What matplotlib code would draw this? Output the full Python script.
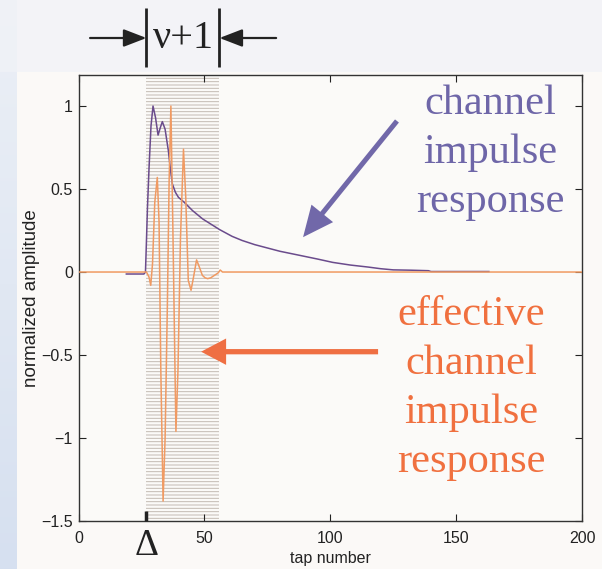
import numpy as np
import matplotlib
matplotlib.use("Agg")
import matplotlib.pyplot as plt
from matplotlib import transforms

# ---------------- data ----------------
purple_taps = [19, 26, 26.6, 27.0, 27.4, 28.0, 28.8, 29.6, 30.6, 31.6, 32.5, 33.3, 34.4,
               35.7, 36.5, 37.3, 38.5, 39.7, 42.0, 45.3, 49.3, 56, 61, 65, 70, 75, 80,
               88, 95, 101, 108, 115, 120, 125, 132, 139, 140, 163]
purple_vals = [-0.012, -0.012, 0.0, 0.19, 0.39, 0.62, 0.88, 1.0, 0.93, 0.825, 0.87, 0.906, 0.86,
               0.73, 0.62, 0.53, 0.48, 0.45, 0.42, 0.37, 0.32, 0.256, 0.215, 0.19, 0.165, 0.145, 0.125,
               0.1, 0.078, 0.058, 0.042, 0.03, 0.02, 0.013, 0.011, 0.008, 0.003, 0.003]

orange_taps = [0, 27, 28, 28.7, 29.4, 30.3, 31.3, 32.0, 32.7, 33.6, 34.4, 35.3, 36.0, 36.7,
               37.5, 38.7, 39.5, 40.5, 41.7, 42.6, 43.6, 44.7, 45.7, 46.9, 48.0, 49.2, 50.3,
               51.3, 52.5, 54.0, 55.5, 56.3, 57.2, 200]
orange_vals = [0, 0, -0.03, -0.08, 0.05, 0.42, 0.57, 0.3, -0.59, -1.38, -1.0, -0.2, 0.55, 1.0,
               0.25, -0.96, -0.6, 0.2, 0.74, 0.45, -0.05, -0.11, -0.03, 0.073, 0.03, -0.02, -0.035,
               -0.04, -0.035, -0.02, -0.005, 0.012, 0.0, 0]

delta = 27          # start of the window (Delta)
window_end = 56     # Delta + nu + 1

x_ticks = [0, 50, 100, 150, 200]
y_ticks = [-1.5, -1, -0.5, 0, 0.5, 1]
x_ticklabels = ["0", "50", "100", "150", "200"]
y_ticklabels = ["\u22121.5", "\u22121", "\u22120.5", "0", "0.5", "1"]

# ---------------- figure ----------------
W, H = 602, 569
fig = plt.figure(figsize=(W / 100, H / 100), dpi=100)

# slide background
bg = fig.add_axes([0, 0, 1, 1], zorder=-10)
bg.axis("off")
img = np.ones((H, W, 3))
top_col = np.array([0xf3, 0xf4, 0xf7]) / 255
panel_col = np.array([0xfb, 0xfa, 0xf8]) / 255
img[:, :] = panel_col
img[:72, :] = top_col
t = np.linspace(0, 1, H)[:, None]
strip_top = np.array([0xec, 0xf0, 0xf6]) / 255
strip_bot = np.array([0xd6, 0xe0, 0xf0]) / 255
img[:, :17] = (strip_top * (1 - t) + strip_bot * t)[:, None, :]
img[:72, :17] = (img[:72, :17] + top_col) / 2
bg.imshow(img, aspect="auto", extent=[0, 1, 0, 1])

ax = fig.add_axes([78.5 / W, 1 - 521 / H, (582 - 78.5) / W, (521 - 75) / H])
ax.set_facecolor(panel_col)
ax.set_xlim(0, 200)
ax.set_ylim(-1.5, 1.187)

plt.rcParams["hatch.linewidth"] = 0.7
ax.axvspan(delta, window_end, facecolor="none", edgecolor="#c2bab2",
           hatch="-----", linewidth=0, zorder=1)

ax.plot(purple_taps, purple_vals, color="#6a4b8c", lw=1.1, zorder=3)
ax.plot(orange_taps, orange_vals, color="#f09a62", lw=1.1, zorder=4)

ax.set_xticks(x_ticks)
ax.set_xticklabels(x_ticklabels)
ax.set_yticks(y_ticks)
ax.set_yticklabels(y_ticklabels)
ax.tick_params(direction="in", length=5, width=0.8, top=True, right=True,
               labelsize=11.5, colors="#222222", pad=4)
ax.tick_params(axis="x", pad=7)
for lab in ax.get_xticklabels() + ax.get_yticklabels():
    lab.set_family("Liberation Sans")
for s in ax.spines.values():
    s.set_color("#333333")
    s.set_linewidth(1.0)

ax.set_xlabel("tap number", fontsize=11.5, family="Liberation Sans", labelpad=4, color="#222222")
ax.set_ylabel("normalized amplitude", fontsize=13.5, family="Liberation Sans", labelpad=1, color="#222222")

# thick Delta tick
ax.plot([delta, delta], [-1.5, -1.44], color="#222222", lw=2.5, solid_capstyle="butt",
        zorder=5, clip_on=False)

# Delta label
tr = transforms.blended_transform_factory(ax.transData, fig.transFigure)
ax.text(delta, 1 - 546 / H, "\u0394", transform=tr, ha="center", va="center",
        fontsize=27, family="Liberation Serif", color="#222222")

# nu+1 annotation at the top
y_arr = 1 - 38 / H
for xb in (delta, window_end):
    ax.plot([xb, xb], [1 - 8 / H, 1 - 67 / H], transform=tr, color="#222222",
            lw=2.0, clip_on=False, solid_capstyle="butt")
ax.annotate("", xy=(delta, y_arr), xytext=(4.6, y_arr), xycoords=tr, textcoords=tr,
            arrowprops=dict(arrowstyle="-|>,head_length=0.7,head_width=0.27",
                            mutation_scale=20, color="#222222", lw=1.6,
                            shrinkA=0, shrinkB=0), annotation_clip=False)
ax.annotate("", xy=(window_end, y_arr), xytext=(78.5, y_arr), xycoords=tr, textcoords=tr,
            arrowprops=dict(arrowstyle="-|>,head_length=0.7,head_width=0.27",
                            mutation_scale=20, color="#222222", lw=1.6,
                            shrinkA=0, shrinkB=0), annotation_clip=False)
ax.text((delta + window_end) / 2, y_arr, "\u03bd+1", transform=tr, ha="center", va="center",
        fontsize=29, family="Liberation Serif", color="#222222")

# annotations
ax.text(163.5, 0.717, "channel\nimpulse\nresponse", ha="center", va="center",
        multialignment="center", fontsize=30.5, family="Liberation Serif",
        color="#6e66a8", linespacing=1.36, zorder=6)
ax.text(155.9, -0.70, "effective\nchannel\nimpulse\nresponse", ha="center", va="center",
        multialignment="center", fontsize=30.5, family="Liberation Serif",
        color="#f0703f", linespacing=1.36, zorder=6)

ax.annotate("", xy=(89.2, 0.21), xytext=(126.5, 0.91),
            arrowprops=dict(arrowstyle="simple,head_length=1.1,head_width=1.0,tail_width=0.18",
                            mutation_scale=20, color="#7168a9", lw=0,
                            shrinkA=0, shrinkB=0), zorder=6)
ax.annotate("", xy=(48.7, -0.48), xytext=(119, -0.48),
            arrowprops=dict(arrowstyle="simple,head_length=0.9,head_width=0.95,tail_width=0.19",
                            mutation_scale=20, color="#ef6f43", lw=0,
                            shrinkA=0, shrinkB=0), zorder=6)

fig.savefig("out.png", dpi=100, facecolor=fig.get_facecolor())
